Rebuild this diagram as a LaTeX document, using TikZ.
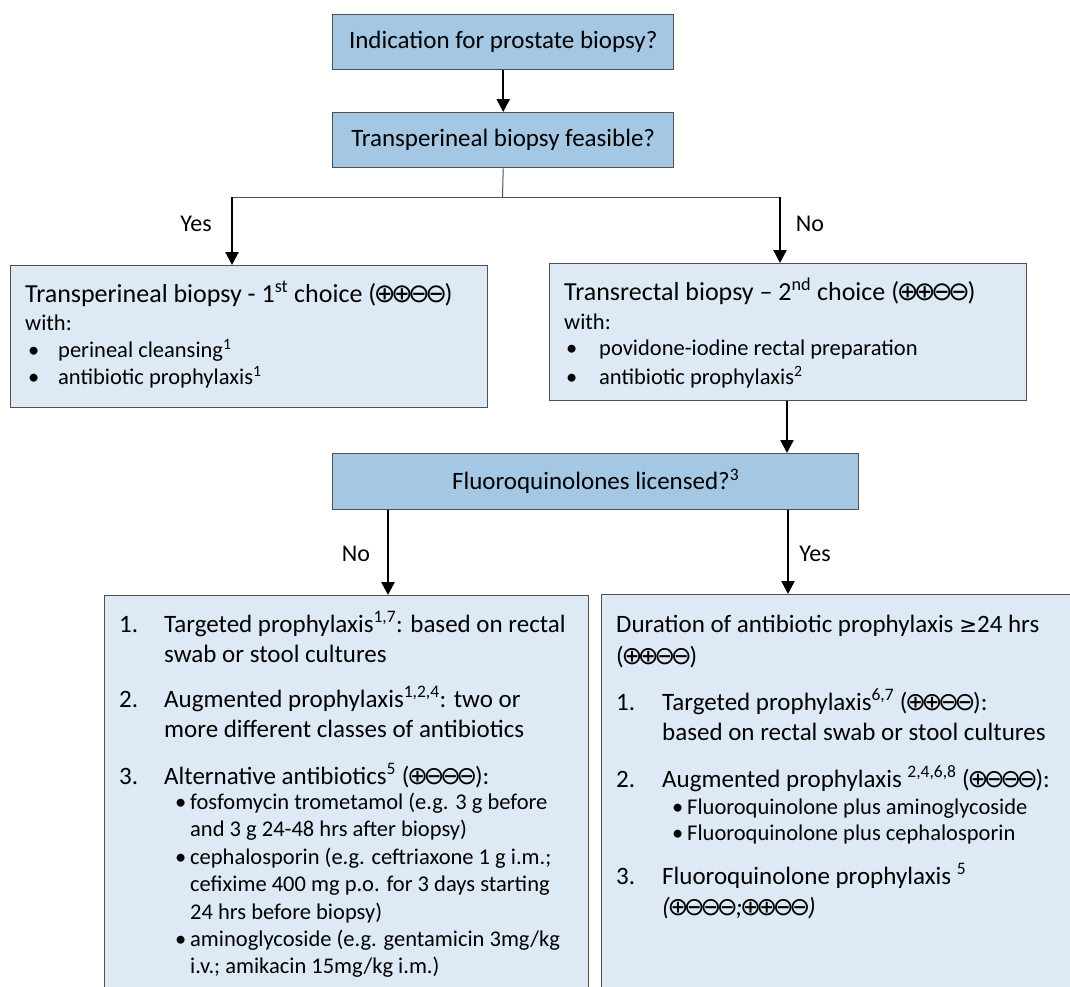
\documentclass[tikz,border=0pt]{standalone}
\usepackage{fontspec}
\setmainfont{Carlito}
\newfontfamily\symf[Scale=1.0]{DejaVu Sans}
\newfontfamily\symg[Scale=0.85]{DejaVu Sans}
\usetikzlibrary{arrows.meta}
\definecolor{topfill}{HTML}{A4C8E4}
\definecolor{lowfill}{HTML}{DDEAF6}
\definecolor{edgecol}{HTML}{505050}
\newcommand{\gplus}{\kern-0.09em{\symf ⊕}\kern-0.09em}
\newcommand{\gminus}{\kern-0.09em{\symf ⊖}\kern-0.09em}
\tikzset{
  boxbase/.style={draw=edgecol, line width=1.4pt, inner sep=0pt, anchor=north west},
  topbox/.style={boxbase, fill=topfill},
  lowbox/.style={boxbase, fill=lowfill},
  arr/.style={line width=2.4pt, -{Triangle[width=13pt,length=13pt]}},
  thinline/.style={draw=edgecol, line width=1pt},
  txt/.style={inner sep=0pt, anchor=base west},
  fbig/.style={font=\fontsize{25}{30}\selectfont},
  ftitle/.style={font=\fontsize{26}{30}\selectfont},
  fsmall/.style={font=\fontsize{22.5}{26}\selectfont},
  flist/.style={font=\fontsize{25}{30}\selectfont},
  lbl/.style={inner sep=0pt, font=\fontsize{24}{28}\selectfont},
}
\begin{document}
\begin{tikzpicture}[x=1pt,y=-1pt]
\path[use as bounding box] (0,0) rectangle (1070,986);
\clip (0,0) rectangle (1070,986);

% top boxes
\node[topbox, minimum width=341pt, minimum height=55pt, fbig] (b1) at (332,14) {Indication for prostate biopsy?};
\node[topbox, minimum width=341pt, minimum height=55pt, fbig] (b2) at (332,112) {Transperineal biopsy feasible?};
\draw[arr] (b1.south) -- (b2.north);

% branch
\coordinate (bj) at (502.5,197);
\coordinate (brL) at (232,197);
\coordinate (brR) at (780,197);
\draw[thinline] (b2.south) -- (bj);
\draw[thinline] (brL) -- (brR);

% second row boxes
\node[lowbox, minimum width=477pt, minimum height=142pt] (b3) at (10,265) {};
\node[lowbox, minimum width=477pt, minimum height=137pt] (b4) at (549,263) {};
\draw[arr] (brL) -- (brL |- b3.north);
\draw[arr] (brR) -- (brR |- b4.north);
\node[lbl] (yes1) at (196,224) {Yes};
\node[lbl] (no1) at (810,224) {No};

% box 3 text
\node[txt, ftitle] (t3a) at (25,302) {Transperineal biopsy - 1\textsuperscript{st} choice (\gplus\gplus\gminus\gminus)};
\node[txt, fsmall] (t3b) at (25,330) {with:};
\node[txt, fsmall] (t3c) at (28,357) {•};
\node[txt, fsmall] (t3d) at (58,357) {perineal cleansing\textsuperscript{1}};
\node[txt, fsmall] (t3e) at (28,384) {•};
\node[txt, fsmall] (t3f) at (58,384) {antibiotic prophylaxis\textsuperscript{1}};

% box 4 text
\node[txt, ftitle] (t4a) at (564,300) {Transrectal biopsy – 2\textsuperscript{nd} choice (\gplus\gplus\gminus\gminus)};
\node[txt, fsmall] (t4b) at (564,329) {with:};
\node[txt, fsmall] (t4c) at (566,355) {•};
\node[txt, fsmall] (t4d) at (599,355) {povidone-iodine rectal preparation};
\node[txt, fsmall] (t4e) at (566,384) {•};
\node[txt, fsmall] (t4f) at (599,384) {antibiotic prophylaxis\textsuperscript{2}};

% box 5
\node[topbox, minimum width=526pt, minimum height=56pt, fbig] (b5) at (332,453) {Fluoroquinolones licensed?\textsuperscript{3}};
\draw[arr] (b4.south -| 787,0) -- (b5.north -| 787,0);

% bottom boxes
\node[lowbox, minimum width=484pt, minimum height=420pt] (b6) at (104,595) {};
\node[lowbox, minimum width=480pt, minimum height=420pt] (b7) at (601,594) {};
\draw[arr] (b5.south -| 388,0) -- (b6.north -| 388,0);
\draw[arr] (b5.south -| 788,0) -- (b7.north -| 788,0);
\node[lbl] (no2) at (356,554) {No};
\node[lbl] (yes2) at (815,554) {Yes};

% box 6 text
\node[txt, flist] (t6a) at (119,632) {1.};
\node[txt, flist] (t6b) at (164,632) {Targeted prophylaxis\textsuperscript{1,7}: based on rectal};
\node[txt, flist] (t6c) at (164,662) {swab or stool cultures};
\node[txt, flist] (t6d) at (119,707) {2.};
\node[txt, flist] (t6e) at (164,707) {Augmented prophylaxis\textsuperscript{1,2,4}: two or};
\node[txt, flist] (t6f) at (164,737) {more different classes of antibiotics};
\node[txt, flist] (t6g) at (119,784) {3.};
\node[txt, flist] (t6h) at (164,784) {Alternative antibiotics\textsuperscript{5} (\gplus\gminus\gminus\gminus):};
\node[txt, fsmall] (t6i) at (175,809.5) {•};
\node[txt, fsmall] (t6j) at (190,809.5) {fosfomycin trometamol (e.g. 3 g before};
\node[txt, fsmall] (t6k) at (190,836.5) {and 3 g 24-48 hrs after biopsy)};
\node[txt, fsmall] (t6l) at (175,864.5) {•};
\node[txt, fsmall] (t6m) at (190,864.5) {cephalosporin (e.g. ceftriaxone 1 g i.m.;};
\node[txt, fsmall] (t6n) at (190,891.5) {cefixime 400 mg p.o. for 3 days starting};
\node[txt, fsmall] (t6o) at (190,919.5) {24 hrs before biopsy)};
\node[txt, fsmall] (t6p) at (175,946.5) {•};
\node[txt, fsmall] (t6q) at (190,946.5) {aminoglycoside (e.g. gentamicin 3mg/kg};
\node[txt, fsmall] (t6r) at (190,973.5) {i.v.; amikacin 15mg/kg i.m.)};

% box 7 text
\node[txt, flist] (t7a) at (616,632) {Duration of antibiotic prophylaxis {\symg ≥}24 hrs};
\node[txt, flist] (t7b) at (616,664) {(\gplus\gplus\gminus\gminus)};
\node[txt, flist] (t7c) at (616,710) {1.};
\node[txt, flist] (t7d) at (662,710) {Targeted prophylaxis\textsuperscript{6,7} (\gplus\gplus\gminus\gminus):};
\node[txt, flist] (t7e) at (662,740) {based on rectal swab or stool cultures};
\node[txt, flist] (t7f) at (616,787) {2.};
\node[txt, flist] (t7g) at (662,787) {Augmented prophylaxis \textsuperscript{2,4,6,8} (\gplus\gminus\gminus\gminus):};
\node[txt, fsmall] (t7h) at (672,814) {•};
\node[txt, fsmall] (t7i) at (687,814) {Fluoroquinolone plus aminoglycoside};
\node[txt, fsmall] (t7j) at (672,840) {•};
\node[txt, fsmall] (t7k) at (687,840) {Fluoroquinolone plus cephalosporin};
\node[txt, flist] (t7l) at (616,884) {3.};
\node[txt, flist] (t7m) at (662,884) {Fluoroquinolone prophylaxis \textsuperscript{5}};
\node[txt, flist] (t7n) at (662,915) {\itshape(\gplus\gminus\gminus\gminus;\gplus\gplus\gminus\gminus)};
\end{tikzpicture}
\end{document}
